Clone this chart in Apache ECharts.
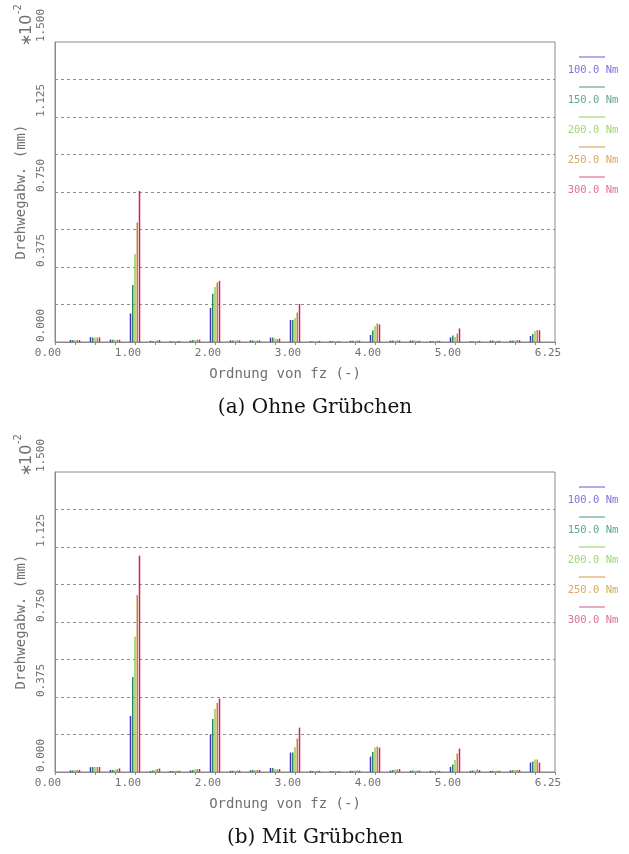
<!DOCTYPE html>
<html><head><meta charset="utf-8">
<script src="https://cdn.jsdelivr.net/npm/echarts@6/dist/echarts.min.js"></script>
<style>html,body{margin:0;padding:0;background:#fff}#c{width:629px;height:854px}</style>
</head><body><div id="c"></div>
<script>
// x positions (Ordnung von fz)
const orders = [0.25, 0.5, 0.75, 1.0, 1.25, 1.5, 1.75, 2.0, 2.25, 2.5, 2.75, 3.0,
                3.25, 3.5, 3.75, 4.0, 4.25, 4.5, 4.75, 5.0, 5.25, 5.5, 5.75, 6.0];
const seriesNames = ['100.0 Nm', '150.0 Nm', '200.0 Nm', '250.0 Nm', '300.0 Nm'];
const yTickLabels = ['0.000', '0.375', '0.750', '1.125', '1.500'];
const xTickLabels = ['0.00', '1.00', '2.00', '3.00', '4.00', '5.00', '6.25'];
const captions = ['(a) Ohne Grübchen', '(b) Mit Grübchen'];
const yAxisName = 'Drehwegabw. (mm)';
const xAxisName = 'Ordnung von fz (-)';
const scaleStar = '∗';
const scaleBase = '10';
const scaleExp = '-2';

// (a) Ohne Grübchen
const a100 = [0.010, 0.024, 0.012, 0.143, 0.006, 0.004, 0.007, 0.170, 0.008, 0.008, 0.022, 0.110, 0.004, 0.005, 0.006, 0.035, 0.007, 0.007, 0.005, 0.023, 0.004, 0.007, 0.007, 0.030];
const a150 = [0.010, 0.023, 0.011, 0.285, 0.004, 0.003, 0.010, 0.241, 0.008, 0.008, 0.022, 0.110, 0.003, 0.004, 0.006, 0.057, 0.007, 0.007, 0.004, 0.032, 0.004, 0.007, 0.008, 0.040];
const a200 = [0.010, 0.022, 0.011, 0.440, 0.006, 0.004, 0.010, 0.275, 0.009, 0.008, 0.017, 0.120, 0.005, 0.004, 0.006, 0.080, 0.008, 0.007, 0.006, 0.025, 0.005, 0.006, 0.008, 0.055];
const a250 = [0.010, 0.023, 0.011, 0.598, 0.008, 0.005, 0.012, 0.297, 0.008, 0.008, 0.015, 0.148, 0.004, 0.005, 0.007, 0.092, 0.008, 0.006, 0.006, 0.042, 0.005, 0.006, 0.010, 0.060];
const a300 = [0.010, 0.023, 0.011, 0.755, 0.010, 0.005, 0.012, 0.306, 0.008, 0.008, 0.017, 0.190, 0.006, 0.004, 0.007, 0.088, 0.008, 0.006, 0.006, 0.068, 0.006, 0.006, 0.009, 0.058];

// (b) Mit Grübchen
const b100 = [0.008, 0.024, 0.010, 0.280, 0.005, 0.005, 0.008, 0.188, 0.006, 0.008, 0.020, 0.097, 0.006, 0.004, 0.006, 0.077, 0.007, 0.006, 0.006, 0.025, 0.006, 0.005, 0.008, 0.047];
const b150 = [0.008, 0.025, 0.010, 0.475, 0.007, 0.005, 0.010, 0.265, 0.006, 0.010, 0.020, 0.097, 0.005, 0.004, 0.005, 0.100, 0.010, 0.007, 0.004, 0.037, 0.007, 0.006, 0.009, 0.052];
const b200 = [0.010, 0.025, 0.011, 0.678, 0.010, 0.006, 0.015, 0.315, 0.006, 0.010, 0.015, 0.125, 0.005, 0.005, 0.007, 0.122, 0.012, 0.006, 0.005, 0.060, 0.008, 0.006, 0.010, 0.062];
const b250 = [0.010, 0.025, 0.015, 0.885, 0.015, 0.006, 0.015, 0.345, 0.007, 0.010, 0.013, 0.168, 0.006, 0.005, 0.007, 0.128, 0.012, 0.007, 0.006, 0.092, 0.012, 0.006, 0.010, 0.062];
const b300 = [0.010, 0.025, 0.018, 1.082, 0.017, 0.006, 0.015, 0.367, 0.008, 0.010, 0.015, 0.222, 0.006, 0.005, 0.007, 0.122, 0.015, 0.007, 0.006, 0.117, 0.010, 0.006, 0.010, 0.047];

const panels = [[a100, a150, a200, a250, a300], [b100, b150, b200, b250, b300]];
const barColors = ['#3b2fc4', '#27876a', '#8ccf5a', '#c8862f', '#d21f4c'];
const legendColors = ['#7f72e0', '#5fa88c', '#9fd874', '#d8a864', '#e07393'];

const GRAY = '#8a8a8a';
const TXT = '#707070';
const MONO = '"DejaVu Sans Mono", monospace';
const panelTop = [42, 472];
const gridLeft = 55, gridW = 500, gridH = 300;

const grids = [], xAxes = [], yAxes = [], series = [], graphics = [];

panelTop.forEach((top, p) => {
  grids.push({left: gridLeft, top: top, width: gridW, height: gridH, show: true,
              borderColor: GRAY, borderWidth: 1, backgroundColor: 'transparent'});
  xAxes.push({
    type: 'value', gridIndex: p, min: 0, max: 6.25, interval: 0.25,
    axisLine: {show: true, lineStyle: {color: GRAY, width: 1}},
    axisTick: {show: true, length: 3, lineStyle: {color: GRAY}},
    splitLine: {show: false},
    axisLabel: {
      margin: 6, fontFamily: MONO, fontSize: 11, color: TXT,
      padding: [0, 14, 0, 0],
      showMinLabel: true, showMaxLabel: true,
      formatter: v => { const t = xTickLabels.find(s => Math.abs(parseFloat(s) - v) < 1e-9); return t || ''; }
    },
    name: xAxisName, nameLocation: 'middle', nameGap: 25,
    nameTextStyle: {fontFamily: MONO, fontSize: 14, color: TXT, padding: [0, 40, 0, 0]}
  });
  yAxes.push({
    type: 'value', gridIndex: p, min: 0, max: 1.5, interval: 0.1875,
    axisLine: {show: true, lineStyle: {color: GRAY, width: 1}},
    axisTick: {show: false},
    splitLine: {show: true, showMinLine: false, showMaxLine: false,
                lineStyle: {color: '#8c8c8c', type: [3, 3], width: 1}},
    axisLabel: {
      rotate: 90, align: 'left', verticalAlign: 'bottom', margin: 8,
      fontFamily: MONO, fontSize: 11, color: TXT,
      showMinLabel: true, showMaxLabel: true,
      formatter: v => { const t = yTickLabels.find(s => Math.abs(parseFloat(s) - v) < 1e-9); return t || ''; }
    },
    name: yAxisName, nameLocation: 'middle', nameGap: 27, nameRotate: 90,
    nameTextStyle: {fontFamily: MONO, fontSize: 14, color: TXT}
  });
  panels[p].forEach((vals, i) => {
    series.push({
      type: 'bar', name: seriesNames[i], xAxisIndex: p, yAxisIndex: p,
      data: orders.map((x, k) => [x, vals[k]]),
      barWidth: 1.5, barGap: '50%', silent: true,
      itemStyle: {color: barColors[i]}
    });
  });
  // legend (line above text)
  seriesNames.forEach((nm, i) => {
    const ly = top + 15 + 30 * i;
    graphics.push({type: 'line', shape: {x1: 579, y1: ly, x2: 605, y2: ly},
                   style: {stroke: legendColors[i], lineWidth: 1.2}, silent: true});
    graphics.push({type: 'text', x: 593, y: ly + 13,
                   style: {text: nm, fill: legendColors[i], font: '10.5px ' + MONO,
                           textAlign: 'center', textVerticalAlign: 'middle'}, silent: true});
  });
  // *10^-2 scale mark (rotated)
  graphics.push({type: 'group', x: 27, y: top + 2, rotation: Math.PI / 2, silent: true, children: [
    {type: 'text', x: 4, y: 0, style: {text: scaleStar, fill: TXT, font: '15px "DejaVu Sans"',
      textAlign: 'center', textVerticalAlign: 'middle'}},
    {type: 'text', x: 9, y: 0, style: {text: scaleBase, fill: TXT, font: '16px "DejaVu Sans"',
      textAlign: 'left', textVerticalAlign: 'middle'}},
    {type: 'text', x: 30, y: -9, style: {text: scaleExp, fill: TXT, font: '10px "DejaVu Sans"',
      textAlign: 'left', textVerticalAlign: 'middle'}}
  ]});
  // caption
  graphics.push({type: 'text', x: 315, y: top + 366, silent: true,
                 style: {text: captions[p], fill: '#111', font: '20px "DejaVu Serif"',
                         textAlign: 'center', textVerticalAlign: 'middle'}});
});

const chart = echarts.init(document.getElementById('c'), null, {renderer: 'canvas'});
chart.setOption({
  animation: false,
  backgroundColor: '#fff',
  grid: grids, xAxis: xAxes, yAxis: yAxes, series: series, graphic: graphics
});
</script></body></html>
